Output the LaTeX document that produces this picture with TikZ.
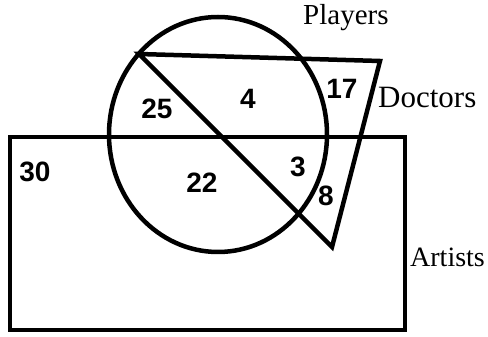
\documentclass[tikz,border=0pt]{standalone}
\usepackage{fontspec}
\setmainfont{Liberation Serif}
\newfontfamily\numfont{Liberation Sans}
\usetikzlibrary{positioning}

\begin{document}
\begin{tikzpicture}[x=1pt,y=1pt,
    setline/.style={line width=4.5pt,line join=miter},
    count/.style={font=\numfont\bfseries\fontsize{28}{28}\selectfont,inner sep=0pt},
    setname/.style={font=\fontsize{29}{29}\selectfont,inner sep=0pt,anchor=base west}]
  \useasboundingbox (0,0) rectangle (488,337);
  % sets
  \draw[setline] (10,7) rectangle (405,200);
  \draw[setline] (218,202.5) ellipse [x radius=109,y radius=117.5];
  \coordinate (docA) at (139,283);
  \coordinate (docB) at (380,276);
  \coordinate (docC) at (332,90);
  \draw[setline] (docA) -- (docB) -- (docC) -- cycle;
  % set names
  \node[setname] (players) at (303,312) {Players};
  \node[setname,font=\fontsize{31}{31}\selectfont] (doctors) at (378,229) {Doctors};
  \node[setname,font=\fontsize{28}{28}\selectfont] (artists) at (410,70) {Artists};
  % counts
  \node[count] (n25) at (157,228) {25};
  \node[count] (n4) at (248,238) {4};
  \node[count] (n17) at (342,248) {17};
  \node[count] (n30) at (35,165) {30};
  \node[count] (n22) at (202,154) {22};
  \node[count] (n3) at (298,170) {3};
  \node[count] (n8) at (326,141) {8};
\end{tikzpicture}
\end{document}
